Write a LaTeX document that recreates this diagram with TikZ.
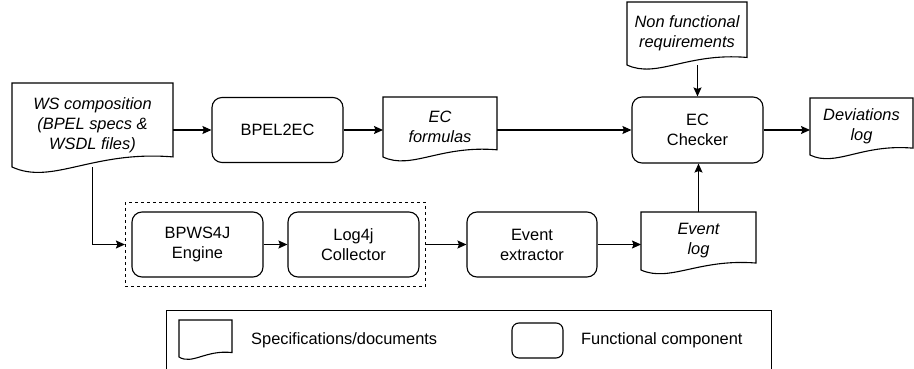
\documentclass[tikz,border=0pt]{standalone}
\usepackage{fontspec}
\setmainfont{Liberation Sans}
\usepackage{tikz}
\usetikzlibrary{arrows.meta,%
	calc,%
	fit}
\newcommand{\diafont}{\fontsize{16.4}{20}\selectfont}
\newcommand{\docshape}[1]{%
	\draw[docline] let \p1 = (#1.north west), \p2 = (#1.south east), \n1 = {\y1-\y2}, \n2 = {\x2-\x1} in
	(\p1) -- (\x2,\y1) -- (\x2,{\y2+0.12*\n1}) .. controls ({\x1+0.5*\n2},{\y2+0.2*\n1}) and ({\x1+0.25*\n2},{\y2-0.22*\n1}) .. (\x1,\y2) -- cycle;}

\begin{document}
\begin{tikzpicture}[x=1pt, y=-1pt, proc/.style = {draw, line width=1.1pt, rounded corners=10pt, align=center, minimum width=131pt, minimum height=65pt, font=\diafont}, doc/.style = {align=center, inner sep=0pt, outer sep=0pt, font=\diafont\itshape}, docline/.style = {line width=1.1pt}, arr/.style = {line width=1.1pt, -{Stealth[length=9pt, width=8pt, inset=1.5pt]}}, grp/.style = {draw, line width=1.1pt, dash pattern=on 3pt off 3pt, inner xsep=6pt, inner ysep=9pt}, legendbox/.style = {draw, line width=1.1pt, anchor=north west, minimum width=605pt, minimum height=80pt}]
	\clip (0,0) rectangle (914,369);
	\node[doc, minimum width=161pt, minimum height=84pt] (ws) at (92.5,125) {WS composition\\(BPEL specs \&\\WSDL files)};
	\node[proc] (bpel) at (277.5,130) {BPEL2EC};
	\node[doc, minimum width=114pt, minimum height=60pt] (ecf) at (440,127) {EC\\formulas};
	\node[proc, minimum height=66pt] (check) at (697.5,130) {EC\\Checker};
	\node[doc, minimum width=120pt, minimum height=63pt] (nf) at (687,33.5) {Non functional\\requirements};
	\node[doc, minimum width=103pt, minimum height=57pt] (dev) at (861.5,126.5) {Deviations\\log};
	\node[proc] (engine) at (197.5,244.5) {BPWS4J\\Engine};
	\node[proc] (collect) at (353.5,244.5) {Log4j\\Collector};
	\node[grp, fit=(engine)(collect)] (grp) {};
	\node[proc, minimum width=130pt] (extract) at (532,244.5) {Event\\extractor};
	\node[doc, minimum width=115pt, minimum height=58pt] (evlog) at (698.5,241) {Event\\log};
	\docshape{ws}
	\docshape{ecf}
	\docshape{nf}
	\docshape{dev}
	\docshape{evlog}
	\draw[arr] (ws.east |- bpel) -- (bpel);
	\draw[arr] (bpel) -- (bpel -| ecf.west);
	\draw[arr] (ecf.east |- check) -- (check);
	\draw[arr] (check) -- (check -| dev.west);
	\draw[arr] (nf.south -| check) -- (check);
	\draw[arr] (evlog.north) -- (evlog.north |- check.south);
	\draw[arr] (ws.south) |- (grp.west);
	\draw[arr] (engine) -- (collect);
	\draw[arr] (grp.east) -- (extract);
	\draw[arr] (extract) -- (extract -| evlog.west);
	\node[legendbox] (legend) at (166,310) {};
	\node[doc, minimum width=53pt, minimum height=37pt] (ldoc) at (205.5,338.5) {};
	\docshape{ldoc}
	\node[anchor=west, inner sep=0pt, font=\diafont] (ldoctext) at (251,340) {Specifications/documents};
	\node[proc, rounded corners=7pt, minimum width=51pt, minimum height=35pt] (lproc) at (537.5,340.5) {};
	\node[anchor=west, inner sep=0pt, font=\diafont] (lproctext) at (581,340) {Functional component};
\end{tikzpicture}
\end{document}
